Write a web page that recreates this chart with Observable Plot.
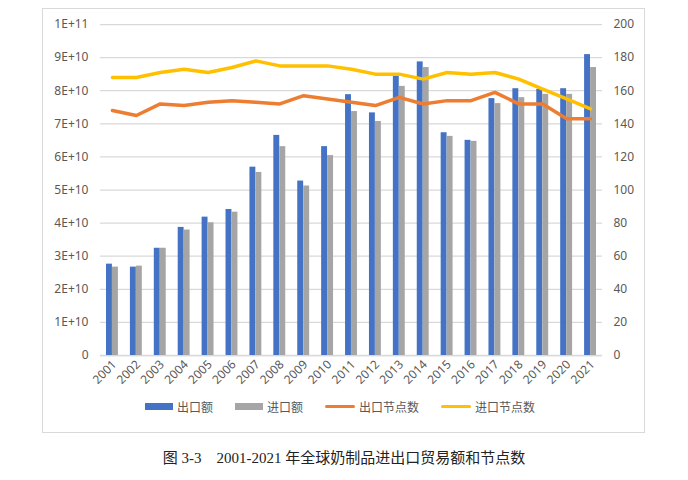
<!DOCTYPE html>
<html><head><meta charset="utf-8">
<script src="https://cdn.jsdelivr.net/npm/d3@7"></script>
<script src="https://cdn.jsdelivr.net/npm/@observablehq/plot@0.6"></script>
<style>
body{margin:0;background:#fff;width:688px;height:480px;position:relative;overflow:hidden;font-family:"Noto Sans","Noto Sans CJK SC",sans-serif;}
#box{position:absolute;left:42px;top:8px;width:603px;height:425px;border:1px solid #d9d9d9;box-sizing:border-box;}
#chart{position:absolute;left:0;top:0;}
#legend{position:absolute;top:398px;left:145px;display:flex;align-items:center;font-size:12px;color:#595959;font-family:"Noto Sans CJK SC",sans-serif;white-space:nowrap;}
#legend .it{display:flex;align-items:center;margin-right:22px;}
#legend .sw{margin-right:4px;}
#caption{position:absolute;top:446px;left:0;width:688px;text-align:center;font-size:15px;color:#222;font-family:"Liberation Serif","Noto Sans CJK SC",serif;white-space:pre;}
</style></head>
<body>
<div id="box"></div>
<div id="chart"></div>
<div id="legend"></div>
<div id="caption">图 3-3    2001-2021 年全球奶制品进出口贸易额和节点数</div>
<script>
const years = [2001,2002,2003,2004,2005,2006,2007,2008,2009,2010,2011,2012,2013,2014,2015,2016,2017,2018,2019,2020,2021];
const exportValue = [2.76e10,2.67e10,3.24e10,3.87e10,4.18e10,4.41e10,5.69e10,6.65e10,5.27e10,6.31e10,7.88e10,7.33e10,8.46e10,8.87e10,6.73e10,6.50e10,7.76e10,8.06e10,8.04e10,8.06e10,9.09e10];
const importValue = [2.67e10,2.70e10,3.24e10,3.79e10,4.01e10,4.33e10,5.53e10,6.31e10,5.12e10,6.04e10,7.37e10,7.07e10,8.13e10,8.70e10,6.62e10,6.47e10,7.61e10,7.79e10,7.89e10,7.89e10,8.70e10];
const exportNodes = [148,145,152,151,153,154,153,152,157,155,153,151,156,152,154,154,159,152,152,143,143];
const importNodes = [168,168,171,173,171,174,178,175,175,175,173,170,170,167,171,170,171,167,161,155,149];
const leftTicks = [0,1e10,2e10,3e10,4e10,5e10,6e10,7e10,8e10,9e10,1e11];
const rightTicks = [0,20,40,60,80,100,120,140,160,180,200];
const seriesNames = ["出口额","进口额","出口节点数","进口节点数"];
const seriesColors = ["#4472C4","#A5A5A5","#ED7D31","#FFC000"];

const ratio = 1e11/200;
const rows = years.map((y,i)=>({year:String(y), exp:exportValue[i], imp:importValue[i], en:exportNodes[i]*ratio, inn:importNodes[i]*ratio}));
const fmtSci = d => { if (d===0) return "0"; const e=Math.floor(Math.log10(d)+1e-9); const m=Math.round(d/10**e); return `${m}E+${e}`; };

const chart = Plot.plot({
  width:688, height:440, marginLeft:100, marginRight:86, marginTop:24, marginBottom:85,
  x:{type:"band", domain: years.map(String), padding:0, round:false},
  y:{domain:[0,1e11]},
  style:{fontFamily:'"Noto Sans","Noto Sans CJK SC",sans-serif', fontSize:"12px", color:"#595959", background:"transparent"},
  marks:[
    Plot.gridY(leftTicks,{stroke:"#d9d9d9", strokeOpacity:1, strokeWidth:1.25}),
    Plot.ruleY([0],{stroke:"#d9d9d9", strokeWidth:1.5}),
    Plot.barY(rows,{x:"year", y:"exp", fill:seriesColors[0], insetLeft:6, insetRight:12}),
    Plot.barY(rows,{x:"year", y:"imp", fill:seriesColors[1], insetLeft:12, insetRight:6}),
    Plot.line(rows,{x:"year", y:"en", stroke:seriesColors[2], strokeWidth:3.5}),
    Plot.line(rows,{x:"year", y:"inn", stroke:seriesColors[3], strokeWidth:3.5}),
    Plot.axisY(leftTicks,{anchor:"left", tickSize:0, tickPadding:12, tickFormat:fmtSci, label:null}),
    Plot.axisY(rightTicks.map(v=>v*ratio),{anchor:"right", tickSize:0, tickPadding:11, tickFormat:d=>String(Math.round(d/ratio)), label:null}),
    Plot.axisX({tickRotate:-45, tickSize:0, tickPadding:7, dx:2, label:null})
  ]
});
document.getElementById("chart").appendChild(chart);

const legend = document.getElementById("legend");
seriesNames.forEach((n,i)=>{
  const it=document.createElement("div"); it.className="it";
  const sw=document.createElement("span"); sw.className="sw";
  if(i<2){ sw.style.cssText=`display:inline-block;width:28px;height:7px;background:${seriesColors[i]}`; }
  else { sw.style.cssText=`display:inline-block;width:30px;height:3px;border-radius:2px;background:${seriesColors[i]}`; }
  const t=document.createElement("span"); t.textContent=n;
  it.appendChild(sw); it.appendChild(t); legend.appendChild(it);
});
</script>
</body></html>
